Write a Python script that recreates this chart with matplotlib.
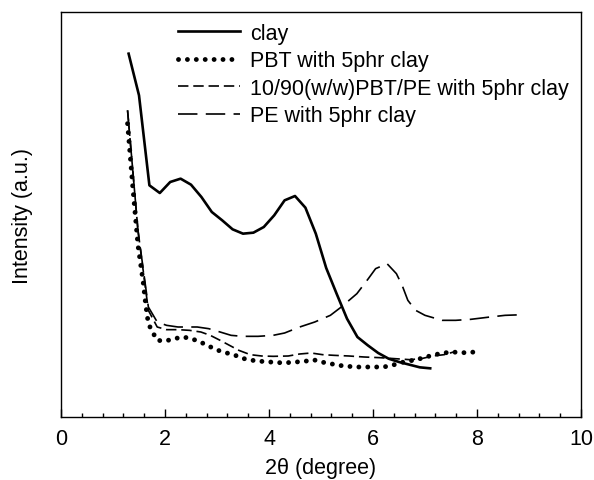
import matplotlib
matplotlib.use("Agg")
import matplotlib.pyplot as plt
from matplotlib.ticker import MultipleLocator

plt.rcParams['font.family'] = ['Liberation Sans', 'DejaVu Sans']
plt.rcParams['lines.scale_dashes'] = False

# clay (solid)
clay_x = [1.3, 1.5, 1.7, 1.9, 2.1, 2.3, 2.5, 2.7, 2.9, 3.1, 3.3, 3.5, 3.7, 3.9, 4.1,
          4.3, 4.5, 4.7, 4.9, 5.1, 5.3, 5.5, 5.7, 5.9, 6.1, 6.3, 6.5, 6.7, 6.9, 7.1]
clay_y = [1090, 965, 695, 672, 705, 715, 697, 660, 615, 590, 563, 550, 553, 570, 605,
          650, 663, 628, 550, 447, 370, 295, 240, 215, 192, 175, 165, 157, 149, 146]

# PBT with 5phr clay (dotted)
pbt_x = [1.28, 1.38, 1.48, 1.58, 1.63, 1.68, 1.76, 1.85, 2.01, 2.18, 2.35, 2.51, 2.68,
         2.85, 3.02, 3.19, 3.35, 3.52, 3.68, 3.85, 4.02, 4.19, 4.35, 4.52, 4.69, 4.85,
         5.01, 5.18, 5.34, 5.52, 5.69, 5.86, 6.03, 6.2, 6.37, 6.53, 6.70, 6.86, 7.02,
         7.19, 7.35, 7.53, 7.70, 7.87, 8.03]
pbt_y = [880, 690, 515, 405, 335, 280, 255, 230, 228, 235, 240, 235, 225,
         212, 200, 192, 185, 175, 170, 167, 165, 163, 163, 165, 167, 172,
         165, 160, 155, 152, 150, 150, 150, 150, 155, 163, 168, 173, 180,
         187, 192, 195, 193, 193, 198]

# 10/90(w/w)PBT/PE with 5phr clay (short dashes)
blend_x = [1.28, 1.48, 1.68, 1.85, 2.03, 2.25, 2.47, 2.69, 2.87, 3.06, 3.24, 3.42,
           3.64, 3.86, 4.08, 4.37, 4.59, 4.81, 5.03, 5.25, 5.54, 5.83, 6.13, 6.42,
           6.71, 6.93, 7.15, 7.37, 7.55]
blend_y = [920, 560, 320, 270, 262, 262, 260, 255, 245, 230, 215, 200,
           187, 183, 182, 183, 189, 192, 187, 185, 183, 180, 178, 175,
           172, 175, 183, 187, 195]

# PE with 5phr clay (long dashes)
pe_x = [1.28, 1.48, 1.68, 1.85, 2.03, 2.25, 2.62, 2.84, 3.06, 3.27, 3.49, 3.79, 4.08,
        4.30, 4.59, 4.88, 5.18, 5.39, 5.69, 5.91, 6.05, 6.27, 6.45, 6.56, 6.67, 6.82,
        7.0, 7.33, 7.59, 7.88, 8.25, 8.54, 8.9]
pe_y = [920, 560, 330, 285, 275, 270, 270, 265, 255, 245, 242, 242, 245,
        252, 270, 285, 305, 330, 370, 415, 445, 460, 430, 395, 350, 320,
        305, 290, 290, 293, 300, 305, 307]

labels = ["clay", "PBT with 5phr clay", "10/90(w/w)PBT/PE with 5phr clay", "PE with 5phr clay"]

FS = 15.5
fig = plt.figure(figsize=(5.94, 4.81), dpi=100)
ax = fig.add_axes([61/594, 63/481, 520/594, 405/481])

ax.plot(clay_x, clay_y, color='black', lw=1.9, label=labels[0])
ax.plot(pbt_x, pbt_y, color='black', lw=3.5, linestyle=(0, (0.01, 6.4)),
        dash_capstyle='round', label=labels[1])
ax.plot(blend_x, blend_y, color='black', lw=1.2, linestyle=(0, (7.5, 3.5)), label=labels[2])
ax.plot(pe_x, pe_y, color='black', lw=1.2, linestyle=(0, (14, 6)), label=labels[3])

ax.set_xlim(0, 10)
ax.set_ylim(0, 1215)
ax.xaxis.set_major_locator(MultipleLocator(2))
ax.xaxis.set_minor_locator(MultipleLocator(0.4))
ax.tick_params(axis='x', which='major', direction='in', length=6, width=1, labelsize=FS, pad=8)
ax.tick_params(axis='x', which='minor', direction='in', length=3, width=1)
ax.set_yticks([])
for s in ax.spines.values():
    s.set_linewidth(1.0)

ax.set_xlabel("2θ (degree)", fontsize=FS, labelpad=6)
ax.set_ylabel("Intensity (a.u.)", fontsize=FS, labelpad=20)

leg = ax.legend(loc='upper left', bbox_to_anchor=(0.225, 0.973), frameon=False,
                fontsize=FS, handlelength=2.9, handletextpad=0.46, labelspacing=0.3,
                borderaxespad=0, borderpad=0)

fig.savefig("out.png", dpi=100)
